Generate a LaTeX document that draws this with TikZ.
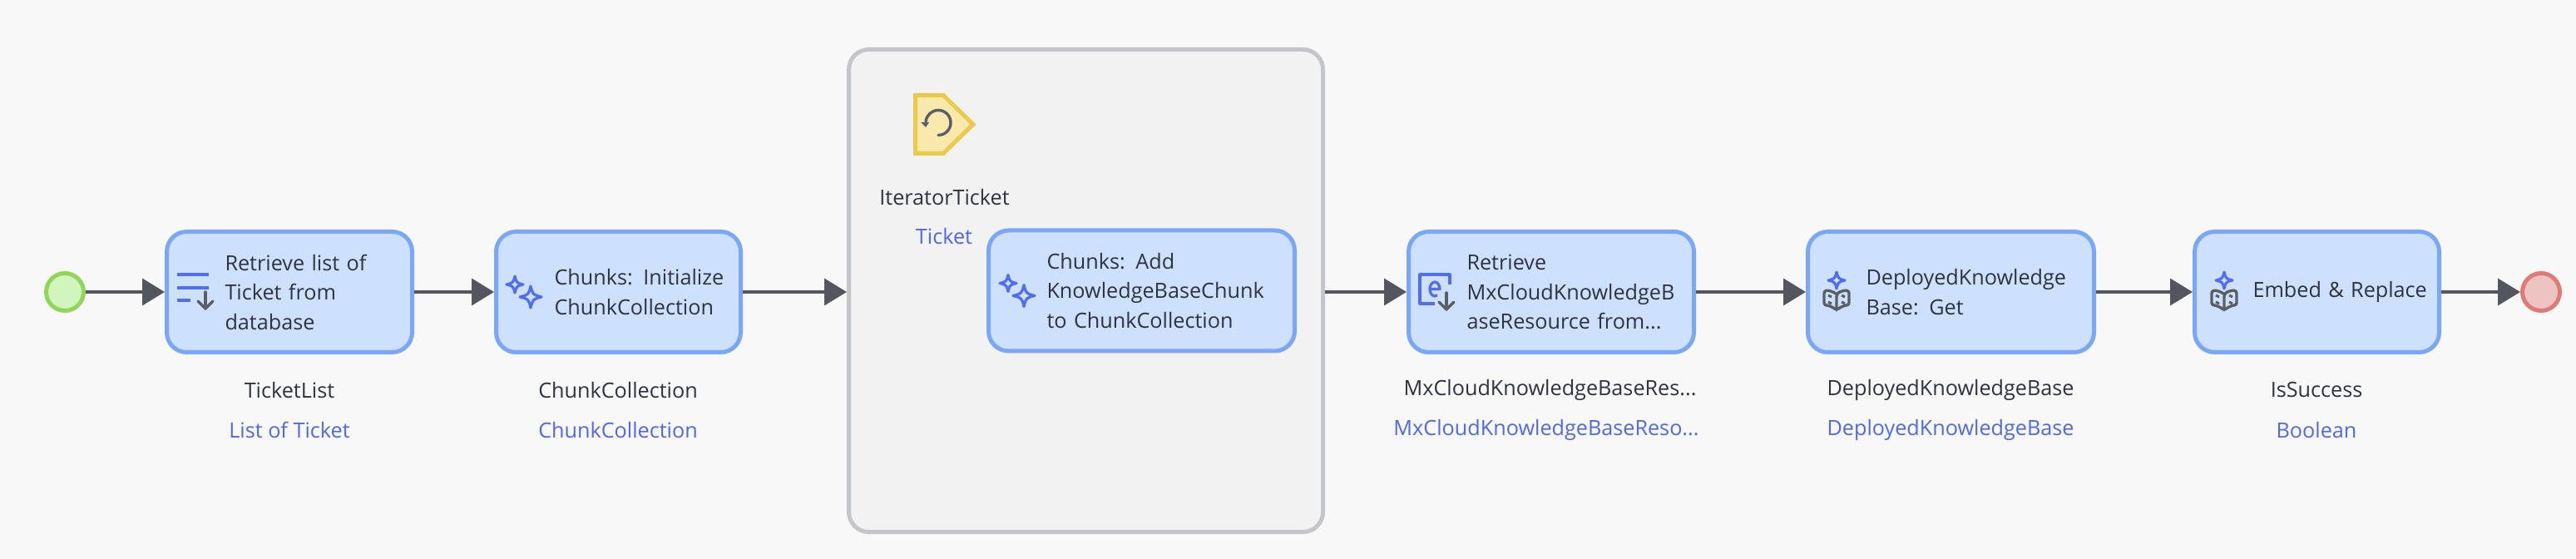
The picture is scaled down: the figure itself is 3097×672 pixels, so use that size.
\documentclass[tikz,border=0pt]{standalone}
\usepackage{fontspec}
\setmainfont{Open Sans}
\usetikzlibrary{arrows.meta,calc}
\definecolor{bgc}{HTML}{F8F8F8}
\definecolor{boxfill}{HTML}{CDE0FD}
\definecolor{boxedge}{HTML}{7AA7FB}
\definecolor{loopfill}{HTML}{F2F2F2}
\definecolor{loopedge}{HTML}{C4C5CA}
\definecolor{flowc}{HTML}{54565F}
\definecolor{inkc}{HTML}{2F3240}
\definecolor{typec}{HTML}{4F68EE}
\definecolor{iconblue}{HTML}{4F6DF5}
\definecolor{icongray}{HTML}{5A5E69}
\tikzset{
  x=0.5pt,y=-0.5pt,
  basefont/.style={font=\fontsize{12.6}{17.75}\selectfont},
  flowbox/.style={draw=boxedge,fill=boxfill,line width=2.5pt,rounded corners=12pt,
    inner xsep=0pt,inner ysep=0pt,minimum height=72.5pt,text width=#1,align=left,
    text=inkc,basefont,execute at begin node={\leftskip=35pt\relax}},
  loopbox/.style={draw=loopedge,fill=loopfill,line width=2.5pt,rounded corners=12pt,
    minimum width=285pt,minimum height=290pt,inner sep=0pt},
  startev/.style={circle,draw=#1,line width=2.5pt,minimum size=22.5pt,inner sep=0pt},
  namelabel/.style={text=inkc,basefont,inner sep=0pt},
  typelabel/.style={text=typec,basefont,inner sep=0pt},
  flow/.style={draw=flowc,line width=1.75pt,-{Triangle[length=13.5pt,width=16pt]}},
  iconb/.style={draw=iconblue,line width=1.6pt,line join=round,fill=none},
  icong/.style={draw=icongray,line width=1.7pt,line join=round,line cap=round,fill=none},
}
\newcommand{\sparkle}[3]{%
  \draw[iconb,shift={(#1,#2)},scale=#3]
    (0,-1) .. controls (0.2,-0.2) .. (1,0) .. controls (0.2,0.2) .. (0,1)
    .. controls (-0.2,0.2) .. (-1,0) .. controls (-0.2,-0.2) .. cycle;}
\newcommand{\twosparkles}[2]{\sparkle{#1+25}{#2-9}{10}\sparkle{#1+44}{#2+6}{13}}
\newcommand{\downarrowicon}[2]{%
  \draw[icong] (#1,#2) -- (#1,#2+20);
  \draw[icong] (#1-9,#2+11) -- (#1,#2+20) -- (#1+9,#2+11);}
\newcommand{\bookicon}[2]{%
  \sparkle{#1}{#2}{10}
  \begin{scope}[shift={(#1,#2)}]
    \draw[icong,rounded corners=1.5pt] (0,16.5) .. controls (-5,13) and (-10,12) .. (-15,12.5)
      -- (-15,30) .. controls (-10,30) and (-5,32) .. (0,36)
      .. controls (5,32) and (10,30) .. (15,30) -- (15,12.5)
      .. controls (10,12) and (5,13) .. (0,16.5) -- (0,36);
    \foreach \px in {-8,8}\foreach \py in {19,27}{
      \draw[draw=icongray,line width=1.5pt] (\px-2,\py-1) -- (\px+2,\py+1);}
  \end{scope}}
\begin{document}
\begin{tikzpicture}
\useasboundingbox[fill=bgc] (0,0) rectangle (3097,672);
% events and boxes
\node[startev=boxedge!0!white,draw=none] at (-100,-100) {};
\node[startev=black,draw={rgb,255:red,143;green,214;blue,90},fill={rgb,255:red,210;green,244;blue,189}] (start) at (78,351) {};
\node[flowbox=147.5pt] (b1) at (348,351) {Retrieve list of\\Ticket from\\database};
\node[flowbox=147pt] (b2) at (743.5,351) {Chunks: Initialize\\ChunkCollection};
\node[loopbox] (loop) at (1305.5,349.5) {};
\node[flowbox=184pt] (b3) at (1372.5,349.5) {Chunks: Add\\KnowledgeBaseChunk\\to ChunkCollection};
\node[flowbox=171.5pt] (b5) at (1865,351) {Retrieve\\MxCloudKnowledgeB\\aseResource from...};
\node[flowbox=172pt] (b6) at (2345.5,351) {DeployedKnowledge\\Base: Get};
\node[flowbox=147pt] (b7) at (2785.5,351) {Embed \& Replace};
\node[startev=black,draw={rgb,255:red,224;green,122;blue,116},fill={rgb,255:red,237;green,196;blue,194}] (end) at (3055,351) {};
% labels
\node[namelabel] (n1) at (348,469) {TicketList};
\node[typelabel] (t1) at (348,517) {List of Ticket};
\node[namelabel] (n2) at (743,469) {ChunkCollection};
\node[typelabel] (t2) at (743,517) {ChunkCollection};
\node[namelabel] (n3) at (1135.5,237) {IteratorTicket};
\node[typelabel] (t3) at (1135,284) {Ticket};
\node[namelabel] (n5) at (1863.5,469) {MxCloudKnowledgeBaseRes...};
\node[typelabel] (t5) at (1859,517) {MxCloudKnowledgeBaseReso...};
\node[namelabel] (n6) at (2345,469) {DeployedKnowledgeBase};
\node[typelabel] (t6) at (2345,517) {DeployedKnowledgeBase};
\node[namelabel] (n7) at (2785,469) {IsSuccess};
\node[typelabel] (t7) at (2785,517) {Boolean};
% connectors
\draw[flow] (start.east) -- (b1.west);
\draw[flow] (b1.east) -- (b2.west);
\draw[flow] (b2.east) -- (b2.east -| loop.west);
\draw[flow] (loop.east |- b5.west) -- (b5.west);
\draw[flow] (b5.east) -- (b6.west);
\draw[flow] (b6.east) -- (b7.west);
\draw[flow] (b7.east) -- (end.west);
% iterator icon
\draw[draw={rgb,255:red,236;green,201;blue,75},fill={rgb,255:red,249;green,233;blue,172},line width=2.5pt,miter limit=4]
  (1100.5,114.5) -- (1134,114.5) -- (1170,149.5) -- (1134,184.5) -- (1100.5,184.5) -- cycle;
\draw[icong] (1128,162.5) arc[start angle=90,end angle=-175,radius=15];
\fill[icongray] (1107,147) -- (1117,147) -- (1113,153) -- cycle;
% list retrieve icon
\draw[iconb] (213,330) -- (251,330) (213,346) -- (251,346) (213,361) -- (229,361);
\downarrowicon{247}{351}
% sparkles
\twosparkles{594}{351}
\twosparkles{1187}{349.5}
% object retrieve icon
\draw[iconb] (1743,342) -- (1743,330) -- (1707,330) -- (1707,365) -- (1725,365);
\draw[iconb] (1719,347.5) -- (1731,347.5) arc[start angle=0,end angle=-300,x radius=6,y radius=8.5];
\downarrowicon{1739}{352}
% knowledge base icons
\bookicon{2208}{337}
\bookicon{2674}{337}
\end{tikzpicture}
\end{document}
